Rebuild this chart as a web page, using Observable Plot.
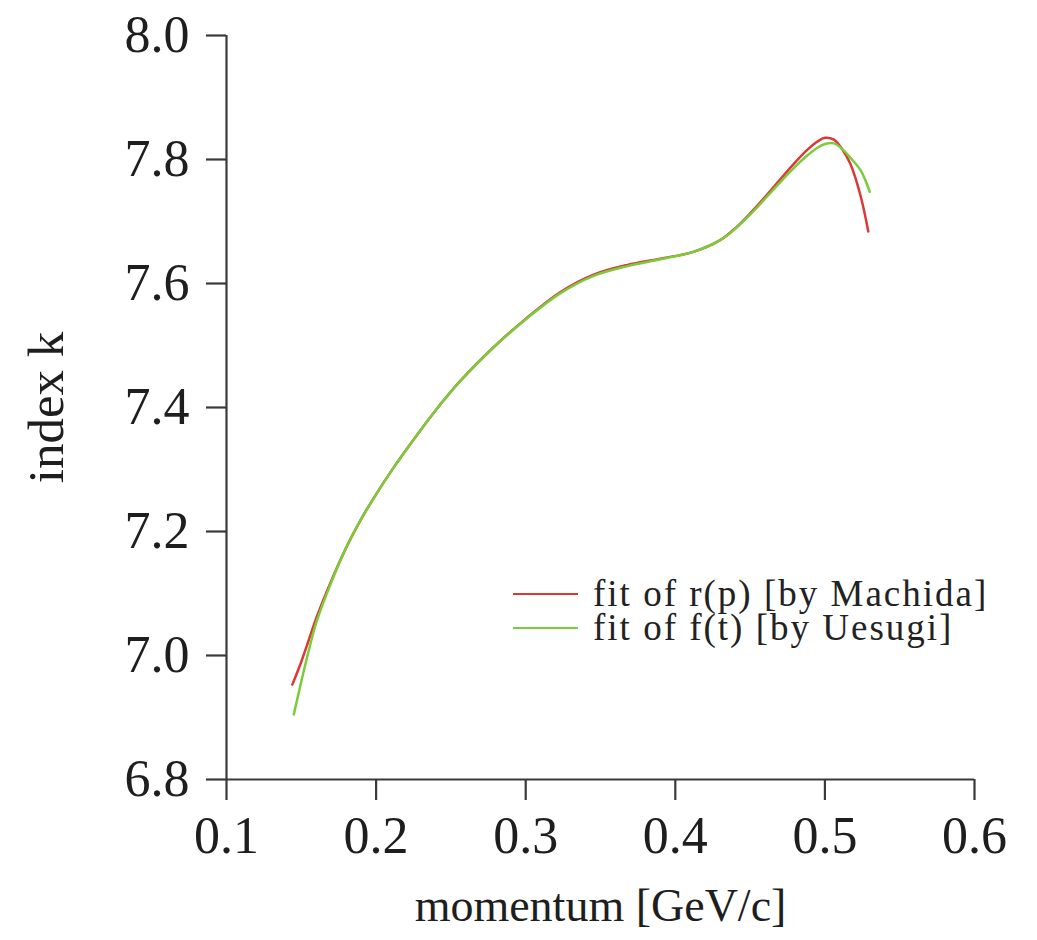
<!DOCTYPE html>
<html>
<head>
<meta charset="utf-8">
<script src="https://cdn.jsdelivr.net/npm/d3@7"></script>
<script src="https://cdn.jsdelivr.net/npm/@observablehq/plot@0.6"></script>
<style>
  html, body { margin: 0; padding: 0; background: #fff; }
  #wrap { position: relative; width: 1037px; height: 940px; font-family: "Liberation Serif", "Times New Roman", serif; }
  #legend { position: absolute; left: 513px; top: 577px; font-size: 37px; color: #222; }
  #legend .row { display: flex; align-items: center; white-space: nowrap; height: 34px; }
  #legend .sw { display: inline-block; width: 65px; height: 0; border-top: 2.5px solid; margin-right: 15px; }
  #legend .tx { display: inline-block; height: 34px; line-height: 34px; letter-spacing: 2px; }
</style>
</head>
<body>
<div id="wrap"><div id="legend"></div></div>
<script>
// Series names and colours
const seriesNames = ["fit of r(p) [by Machida]", "fit of f(t) [by Uesugi]"];
const seriesColors = ["#dd3838", "#7acc3a"];

// fit of r(p) [by Machida]
const momentumMachida = [0.144, 0.150, 0.155, 0.160, 0.170, 0.180, 0.190, 0.200, 0.210, 0.225, 0.240, 0.256, 0.278, 0.300, 0.323, 0.345, 0.368, 0.390, 0.412, 0.430, 0.440, 0.450, 0.462, 0.477, 0.488, 0.495, 0.500, 0.506, 0.512, 0.517, 0.524, 0.529];
const kMachida = [6.953, 6.990, 7.025, 7.060, 7.120, 7.174, 7.220, 7.260, 7.297, 7.348, 7.396, 7.442, 7.496, 7.543, 7.586, 7.614, 7.630, 7.640, 7.651, 7.670, 7.689, 7.713, 7.745, 7.787, 7.815, 7.829, 7.835, 7.832, 7.815, 7.793, 7.740, 7.684];

// fit of f(t) [by Uesugi]
const momentumUesugi = [0.145, 0.150, 0.155, 0.160, 0.170, 0.180, 0.190, 0.200, 0.210, 0.225, 0.240, 0.256, 0.278, 0.300, 0.323, 0.345, 0.368, 0.390, 0.412, 0.430, 0.440, 0.450, 0.462, 0.477, 0.488, 0.495, 0.500, 0.506, 0.512, 0.517, 0.524, 0.530];
const kUesugi = [6.905, 6.958, 7.008, 7.053, 7.118, 7.174, 7.220, 7.260, 7.297, 7.348, 7.396, 7.442, 7.496, 7.542, 7.584, 7.612, 7.628, 7.639, 7.651, 7.670, 7.688, 7.711, 7.742, 7.781, 7.806, 7.819, 7.825, 7.826, 7.816, 7.803, 7.782, 7.748];

// Axis ticks and titles
const xTicks = [0.1, 0.2, 0.3, 0.4, 0.5, 0.6];
const yTicks = [6.8, 7.0, 7.2, 7.4, 7.6, 7.8, 8.0];
const xTitle = "momentum [GeV/c]";
const yTitle = "index k";

const rows = [
  ...momentumMachida.map((p, i) => ({p, k: kMachida[i], s: seriesNames[0]})),
  ...momentumUesugi.map((p, i) => ({p, k: kUesugi[i], s: seriesNames[1]}))
];

const axisColor = "#3a3a3a";
const font = "Liberation Serif, Times New Roman, serif";
const chart = Plot.plot({
  width: 1037,
  height: 940,
  marginLeft: 226,
  marginRight: 63,
  marginTop: 35,
  marginBottom: 161,
  style: {fontFamily: font, fontSize: "52px", color: "#1e1e1e", background: "#fff"},
  x: {domain: [0.1, 0.6]},
  y: {domain: [6.8, 8.0]},
  color: {domain: seriesNames, range: seriesColors},
  marks: [
    Plot.ruleY([6.8], {stroke: axisColor, strokeWidth: 2.2}),
    Plot.ruleX([0.1], {stroke: axisColor, strokeWidth: 2.2}),
    Plot.axisX({ticks: xTicks, tickFormat: d3.format(".1f"), tickSize: 21, tickPadding: 16, stroke: axisColor, strokeWidth: 2.2,
      fontSize: 52, label: null}),
    Plot.axisX({ticks: [], tickSize: 0, label: xTitle, labelAnchor: "center", labelArrow: "none", labelOffset: 141, fontSize: 46}),
    Plot.axisY({ticks: yTicks, tickFormat: d3.format(".1f"), tickSize: 20, tickPadding: 17, stroke: axisColor, strokeWidth: 2.2,
      fontSize: 52, label: null}),
    Plot.axisY({ticks: [], tickSize: 0, label: yTitle, labelAnchor: "center", labelArrow: "none", labelOffset: 200, fontSize: 51}),
    Plot.line(rows, {x: "p", y: "k", z: "s", stroke: "s", strokeWidth: 2.5, curve: "catmull-rom"})
  ]
});
document.getElementById("wrap").prepend(chart);

const legend = document.getElementById("legend");
seriesNames.forEach((name, i) => {
  const row = document.createElement("div");
  row.className = "row";
  const sw = document.createElement("span");
  sw.className = "sw";
  sw.style.borderTopColor = seriesColors[i];
  const t = document.createElement("span");
  t.className = "tx";
  t.textContent = name;
  row.append(sw, t);
  legend.append(row);
});
</script>
</body>
</html>
